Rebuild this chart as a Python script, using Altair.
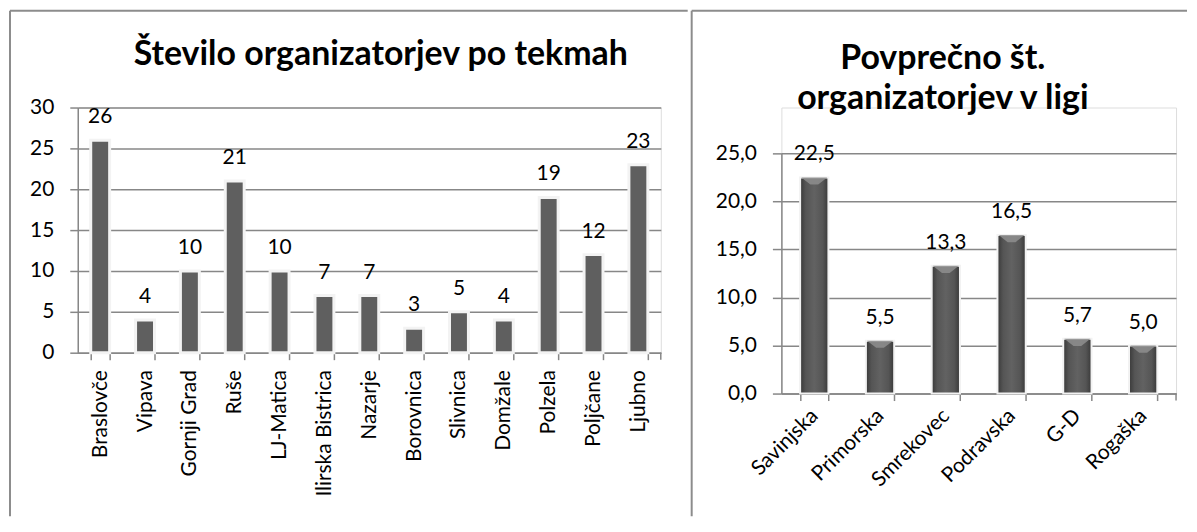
import altair as alt
import pandas as pd

# ---- data ----
left_cats = ["Braslovče", "Vipava", "Gornji Grad", "Ruše", "LJ-Matica", "Ilirska Bistrica",
             "Nazarje", "Borovnica", "Slivnica", "Domžale", "Polzela", "Poljčane", "Ljubno"]
left_vals = [26, 4, 10, 21, 10, 7, 7, 3, 5, 4, 19, 12, 23]
left_ticks = [0, 5, 10, 15, 20, 25, 30]
left_title = "Število organizatorjev po tekmah"

right_cats = ["Savinjska", "Primorska", "Smrekovec", "Podravska", "G-D", "Rogaška"]
right_vals = [22.5, 5.5, 13.3, 16.5, 5.7, 5.0]
right_ticks = [0, 5, 10, 15, 20, 25]
right_title_1 = "Povprečno št."
right_title_2 = "organizatorjev v ligi"

FONT = "Lato"
GRID = "#878787"
BORDER = "#8c8c8c"
LAB = 21
TITLE = 34

# ---------------- left chart ----------------
LW, LH = 585, 246
ldf = pd.DataFrame({"cat": left_cats, "val": left_vals})

lx = alt.X("cat:N", sort=left_cats, title=None,
           scale=alt.Scale(paddingInner=0.578, paddingOuter=0.289),
           axis=alt.Axis(labelAngle=-90, labelAlign="right", labelBaseline="middle",
                         labelFont=FONT, labelFontSize=LAB, labelColor="black",
                         labelPadding=10, tickSize=7, tickBand="extent",
                         bandPosition=0, domainColor=GRID, tickColor=GRID,
                         domainWidth=1.5, tickWidth=1.5, grid=False))
ly = alt.Y("val:Q", title=None, scale=alt.Scale(domain=[0, 30], nice=False),
           axis=alt.Axis(values=left_ticks, labelFont=FONT, labelFontSize=LAB,
                         labelColor="black", labelPadding=16, tickSize=8,
                         domainColor=GRID, tickColor=GRID, gridColor=GRID,
                         gridWidth=1.5, domainWidth=1.5, tickWidth=1.5))

lbars = alt.Chart(ldf).mark_bar(color="#5f5f5f", stroke="#f3f3f3", strokeWidth=3).encode(x=lx, y=ly)
ltext = alt.Chart(ldf).mark_text(font=FONT, fontSize=LAB, color="black", dy=-17,
                                 baseline="alphabetic").encode(
    x=alt.X("cat:N", sort=left_cats), y="val:Q", text="val:Q")

one = pd.DataFrame({"t": [left_title]})
ltitle = alt.Chart(one).mark_text(font=FONT, fontSize=TITLE, fontWeight="bold", color="black",
                                  align="center", baseline="alphabetic").encode(
    text="t:N", x=alt.value(304), y=alt.value(-43))
ltop = alt.Chart(one).mark_rule(color=BORDER, strokeWidth=2).encode(
    x=alt.value(-68), x2=alt.value(612), y=alt.value(-97))
lleft = alt.Chart(one).mark_rule(color=BORDER, strokeWidth=2).encode(
    x=alt.value(-68), y=alt.value(-97), y2=alt.value(410))
lendtick = alt.Chart(one).mark_rule(color=GRID, strokeWidth=1.5).encode(
    x=alt.value(LW), y=alt.value(LH), y2=alt.value(LH + 7))

left = alt.layer(ltop, lleft, ltitle, lbars, ltext, lendtick).properties(width=LW, height=LH)

# ---------------- right chart ----------------
# plot area of the right panel starts 46px lower than the left one
RW, RTOP, RPLOT = 396, 46, 241
RH = RTOP + RPLOT
rdf = pd.DataFrame({"cat": right_cats, "val": right_vals})

rx = alt.X("cat:N", sort=right_cats, title=None,
           scale=alt.Scale(paddingInner=0.57, paddingOuter=0.285),
           axis=alt.Axis(labelAngle=-45, labelAlign="right", labelBaseline="middle",
                         labelFont=FONT, labelFontSize=LAB, labelColor="black",
                         labelPadding=12, tickSize=7, tickBand="extent",
                         bandPosition=0, domainColor=GRID, tickColor=GRID,
                         domainWidth=1.5, tickWidth=1.5, grid=False))
ry = alt.Y("val:Q", title=None, scale=alt.Scale(domain=[0, 25], nice=False, range=[RH, RTOP]),
           axis=alt.Axis(values=right_ticks, labelFont=FONT, labelFontSize=LAB,
                         labelColor="black", labelPadding=16, tickSize=9,
                         labelExpr="replace(format(datum.value, '.1f'), '.', ',')",
                         domainColor=GRID, tickColor=GRID, gridColor=GRID,
                         gridWidth=1.5, domainWidth=1.5, tickWidth=1.5))

grad = alt.LinearGradient(
    gradient="linear", x1=0, x2=1, y1=0, y2=0,
    stops=[alt.GradientStop(color="#383838", offset=0),
           alt.GradientStop(color="#555555", offset=0.2),
           alt.GradientStop(color="#626262", offset=0.5),
           alt.GradientStop(color="#555555", offset=0.8),
           alt.GradientStop(color="#383838", offset=1)])

rbars = alt.Chart(rdf).mark_bar(color=grad, stroke="#f2f2f2", strokeWidth=2).encode(x=rx, y=ry)
rbevel = alt.Chart(rdf).mark_point(
    shape="M-1,0 L1,0 L0.3,0.55 L-0.3,0.55 Z", filled=True, color="#8e8e8e",
    opacity=0.85, size=680, strokeWidth=0).encode(
    x=alt.X("cat:N", sort=right_cats), y="val:Q")
rtext = alt.Chart(rdf).transform_calculate(
    lab="replace(format(datum.val, '.1f'), '.', ',')").mark_text(
    font=FONT, fontSize=LAB, color="black", dy=-17, baseline="alphabetic").encode(
    x=alt.X("cat:N", sort=right_cats), y="val:Q", text="lab:N")

r1 = pd.DataFrame({"t": [right_title_1]})
r2 = pd.DataFrame({"t": [right_title_2]})
rtitle1 = alt.Chart(r1).mark_text(font=FONT, fontSize=TITLE, fontWeight="bold", color="black",
                                  align="center", baseline="alphabetic").encode(
    text="t:N", x=alt.value(162), y=alt.value(-39))
rtitle2 = alt.Chart(r2).mark_text(font=FONT, fontSize=TITLE, fontWeight="bold", color="black",
                                  align="center", baseline="alphabetic").encode(
    text="t:N", x=alt.value(162), y=alt.value(1))
rtop = alt.Chart(r1).mark_rule(color=BORDER, strokeWidth=2).encode(
    x=alt.value(-90), x2=alt.value(407), y=alt.value(-97))
rleft = alt.Chart(r1).mark_rule(color=BORDER, strokeWidth=2).encode(
    x=alt.value(-90), y=alt.value(-97), y2=alt.value(410))
rendtick = alt.Chart(r1).mark_rule(color=GRID, strokeWidth=1.5).encode(
    x=alt.value(RW), y=alt.value(RH), y2=alt.value(RH + 7))

right = alt.layer(rtop, rleft, rtitle1, rtitle2, rbars, rbevel, rtext, rendtick).properties(
    width=RW, height=RH)

chart = alt.hconcat(left, right, spacing=0).properties(padding=0).configure_view(
    stroke=None).configure(background="white")

chart.save("out.html", embed_options={"renderer": "svg", "actions": False})
